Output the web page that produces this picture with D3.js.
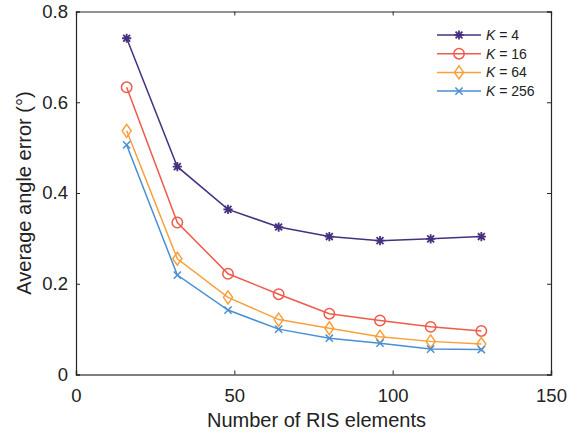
<!DOCTYPE html>
<html>
<head>
<meta charset="utf-8">
<script src="https://cdn.jsdelivr.net/npm/d3@7"></script>
<style>
  html, body { margin: 0; padding: 0; background: #fff; }
  svg { display: block; font-family: "Liberation Sans", Arial, Helvetica, sans-serif; }
</style>
</head>
<body>
<svg id="chart" width="579" height="439"></svg>
<script>
// Number of RIS elements on the horizontal axis
const elements = [16, 32, 48, 64, 80, 96, 112, 128];

// Average angle error (degrees) for each number of users K
const errK4   = [0.741, 0.458, 0.364, 0.325, 0.304, 0.295, 0.299, 0.304];
const errK16  = [0.633, 0.335, 0.222, 0.177, 0.134, 0.119, 0.105, 0.096];
const errK64  = [0.537, 0.255, 0.170, 0.121, 0.102, 0.083, 0.073, 0.067];
const errK256 = [0.506, 0.219, 0.142, 0.100, 0.080, 0.069, 0.056, 0.055];

const seriesLabels = ["4", "16", "64", "256"];
const xTicks = [0, 50, 100, 150];
const yTicks = [0, 0.2, 0.4, 0.6, 0.8];

const series = [
  { k: seriesLabels[0], values: errK4,   color: "#46307f", marker: "star" },
  { k: seriesLabels[1], values: errK16,  color: "#ef5b4b", marker: "circle" },
  { k: seriesLabels[2], values: errK64,  color: "#f8a03c", marker: "diamond" },
  { k: seriesLabels[3], values: errK256, color: "#4a8fd2", marker: "cross" }
];

const svg = d3.select("#chart");
const plotLeft = 76, plotRight = 551, plotTop = 11.5, plotBottom = 374.5;

const x = d3.scaleLinear().domain([0, 150]).range([plotLeft, plotRight]);
const y = d3.scaleLinear().domain([0, 0.8]).range([plotBottom, plotTop]);

const axisColor = "#262626";

// Axes with inward ticks, box style
const gx = svg.append("g").attr("transform", `translate(0,${plotBottom})`)
  .call(d3.axisBottom(x).tickValues(xTicks).tickSize(-4).tickPadding(14).tickFormat(d3.format("d")));
const gxTop = svg.append("g").attr("transform", `translate(0,${plotTop})`)
  .call(d3.axisTop(x).tickValues(xTicks).tickSize(-4).tickFormat(""));
const gy = svg.append("g").attr("transform", `translate(${plotLeft},0)`)
  .call(d3.axisLeft(y).tickValues(yTicks).tickSize(-4).tickPadding(8).tickFormat(d => d === 0 ? "0" : d3.format(".1f")(d)));
const gyRight = svg.append("g").attr("transform", `translate(${plotRight},0)`)
  .call(d3.axisRight(y).tickValues(yTicks).tickSize(-4).tickFormat(""));

[gx, gxTop, gy, gyRight].forEach(g => {
  g.select(".domain").attr("stroke", axisColor).attr("stroke-width", 1.2);
  g.selectAll(".tick line").attr("stroke", axisColor).attr("stroke-width", 1);
  g.selectAll(".tick text").attr("fill", "#222").style("font-size", "18.5px");
});
gx.select(".domain").attr("stroke", "#555").attr("stroke-width", 1.6);
gx.selectAll(".tick text").attr("dy", "0.71em");

// Axis titles
svg.append("text")
  .attr("x", (plotLeft + plotRight) / 2 + 3).attr("y", 427)
  .attr("text-anchor", "middle").attr("fill", "#222")
  .style("font-size", "20px")
  .text("Number of RIS elements");

svg.append("text")
  .attr("transform", `translate(31,${(plotTop + plotBottom) / 2}) rotate(-90)`)
  .attr("text-anchor", "middle").attr("fill", "#222")
  .style("font-size", "20px")
  .text("Average angle error (°)");

// Marker drawing
function drawMarker(g, type, color, cx, cy) {
  if (type === "circle") {
    g.append("circle").attr("cx", cx).attr("cy", cy).attr("r", 5.2)
      .attr("fill", "none").attr("stroke", color).attr("stroke-width", 1.5);
  } else if (type === "diamond") {
    const s = 6.5;
    g.append("path")
      .attr("d", `M${cx},${cy - s}L${cx + s * 0.7},${cy}L${cx},${cy + s}L${cx - s * 0.7},${cy}Z`)
      .attr("fill", "none").attr("stroke", color).attr("stroke-width", 1.5);
  } else if (type === "cross") {
    const s = 3.6;
    g.append("path")
      .attr("d", `M${cx - s},${cy - s}L${cx + s},${cy + s}M${cx - s},${cy + s}L${cx + s},${cy - s}`)
      .attr("stroke", color).attr("stroke-width", 1.5);
  } else if (type === "star") {
    const s = 4.6, d = s * 0.75;
    g.append("path")
      .attr("d", `M${cx},${cy - s}L${cx},${cy + s}M${cx - s},${cy}L${cx + s},${cy}` +
                 `M${cx - d},${cy - d}L${cx + d},${cy + d}M${cx - d},${cy + d}L${cx + d},${cy - d}`)
      .attr("stroke", color).attr("stroke-width", 1.8);
  }
}

const line = d3.line().x((d, i) => x(elements[i])).y(d => y(d));

series.forEach(s => {
  const g = svg.append("g");
  g.append("path").datum(s.values).attr("d", line)
    .attr("fill", "none").attr("stroke", s.color).attr("stroke-width", 1.5);
  s.values.forEach((v, i) => drawMarker(g, s.marker, s.color, x(elements[i]), y(v)));
});

// Legend
const legend = svg.append("g");
series.forEach((s, i) => {
  const ly = 35 + i * 18.7;
  legend.append("line").attr("x1", 437).attr("x2", 481).attr("y1", ly).attr("y2", ly)
    .attr("stroke", s.color).attr("stroke-width", 1.5);
  drawMarker(legend, s.marker, s.color, 459, ly);
  const t = legend.append("text").attr("x", 486).attr("y", ly).attr("dy", "0.35em")
    .attr("fill", "#222").style("font-size", "14px");
  t.append("tspan").style("font-style", "italic").text("K");
  t.append("tspan").text(" = " + s.k);
});
</script>
</body>
</html>
